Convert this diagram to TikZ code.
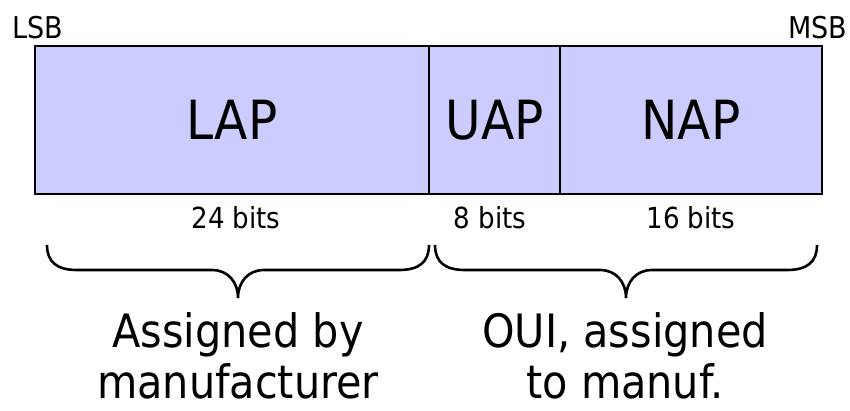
\documentclass[tikz,border=0pt]{standalone}
\usepackage{fontspec}
\setmainfont{DejaVu Sans Condensed}
\begin{document}
\begin{tikzpicture}[x=1pt,y=-1pt,
  field/.style={draw=black,fill=fieldblue,line width=2.4pt,inner sep=0pt,font=\fontsize{54}{60}\selectfont},
  small/.style={inner sep=0pt,anchor=base,font=\fontsize{29}{32}\selectfont},
  big/.style={inner sep=0pt,align=center,font=\fontsize{46}{51}\selectfont},
  brace/.style={draw=black,line width=2.6pt}]
\definecolor{fieldblue}{HTML}{CCCCFF}
\useasboundingbox (0,0) rectangle (850,410);
\node[field,minimum width=394pt,minimum height=148pt] (lap) at (232,120) {LAP};
\node[field,minimum width=131pt,minimum height=148pt] (uap) at (494.5,120) {UAP};
\node[field,minimum width=262pt,minimum height=148pt] (nap) at (691,120) {NAP};
\node[small,font=\fontsize{30}{32}\selectfont] (lsb) at (38,38) {LSB};
\node[small,font=\fontsize{30}{32}\selectfont] (msb) at (818,38) {MSB};
\node[small] (b24) at (236,228) {24 bits};
\node[small] (b8) at (490,228) {8 bits};
\node[small] (b16) at (691,228) {16 bits};
\coordinate (l1) at (47,245);
\coordinate (l2) at (429,245);
\coordinate (lt) at (238,298);
\coordinate (r1) at (435,245);
\coordinate (r2) at (817,245);
\coordinate (rt) at (626,298);
\draw[brace] (l1) .. controls (47,262) and (57,270) .. (77,270) -- (212,270)
  .. controls (228,270) and (238,282) .. (lt)
  .. controls (238,282) and (248,270) .. (264,270) -- (399,270)
  .. controls (419,270) and (429,262) .. (l2);
\draw[brace] (r1) .. controls (435,262) and (445,270) .. (465,270) -- (600,270)
  .. controls (616,270) and (626,282) .. (rt)
  .. controls (626,282) and (636,270) .. (652,270) -- (787,270)
  .. controls (807,270) and (817,262) .. (r2);
\node[big,anchor=base] (asg) at (238,398) {Assigned by\\manufacturer};
\node[big,anchor=base] (oui) at (625,398) {OUI, assigned\\to manuf.};
\end{tikzpicture}
\end{document}
